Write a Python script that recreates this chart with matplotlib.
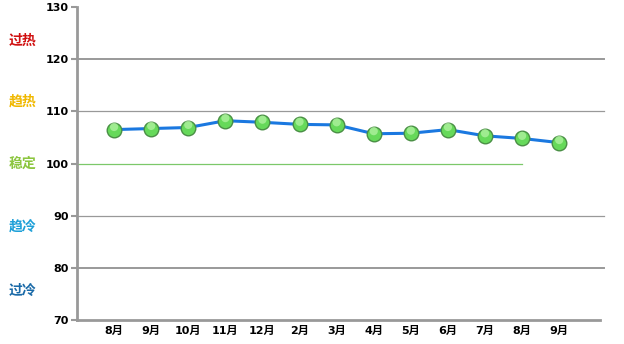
import matplotlib
matplotlib.use('Agg')
import matplotlib.pyplot as plt

months = ['8月', '9月', '10月', '11月', '12月', '2月', '3月', '4月', '5月', '6月', '7月', '8月', '9月']
values = [106.5, 106.7, 106.9, 108.2, 107.9, 107.5, 107.4, 105.7, 105.8, 106.5, 105.3, 104.8, 104.0]
zones = ['过热', '趋热', '稳定', '趋冷', '过冷']
zone_y = [123.6, 111.8, 100, 88, 75.6]
zone_colors = ['#d01010', '#f0b800', '#8cc63f', '#1ea0d8', '#1a6aa8']
y_ticks = [70, 80, 90, 100, 110, 120, 130]

plt.rcParams['font.family'] = ['DejaVu Sans', 'Noto Sans CJK SC']

fig = plt.figure(figsize=(6.24, 3.44), dpi=100)
ax = fig.add_axes([77 / 624, 24 / 344, 523 / 624, 313 / 344])

x = list(range(1, len(values) + 1))

# grid lines
for v, lw in [(80, 1.4), (90, 0.9), (110, 0.9), (120, 1.4)]:
    ax.plot([0, 14.2], [v, v], color='#999999', lw=lw, zorder=1, clip_on=False)
ax.plot([0, 12], [100, 100], color='#7cc86a', lw=0.9, zorder=1)

ax.plot(x, values, color='#1a78e0', lw=2.2, zorder=2)
ax.scatter(x, values, s=110, facecolor='#66d95a', edgecolor='#4a8f45', lw=1.0, zorder=3)
ax.scatter(x, [v + 0.5 for v in values], s=35, facecolor='#b8f5a8', edgecolor='none', alpha=0.7, zorder=4)

ax.set_xlim(0, 14.1)
ax.set_ylim(70, 130)
ax.set_yticks(y_ticks)
ax.set_yticklabels([str(t) for t in y_ticks], fontsize=8, fontweight='bold')
ax.set_xticks(x)
ax.set_xticklabels(months, fontsize=8, fontweight='bold')
ax.tick_params(axis='y', length=4, width=1.5, color='#999999', pad=2)
ax.tick_params(axis='x', length=0, pad=4)

for s in ['top', 'right']:
    ax.spines[s].set_visible(False)
for s in ['left', 'bottom']:
    ax.spines[s].set_color('#999999')
    ax.spines[s].set_linewidth(2)

for name, yy, c in zip(zones, zone_y, zone_colors):
    ax.text(-1.47, yy, name, color=c, fontsize=10, fontweight='bold',
            family=['Noto Sans CJK SC'], ha='center', va='center', clip_on=False)

fig.savefig('out.png', dpi=100)
